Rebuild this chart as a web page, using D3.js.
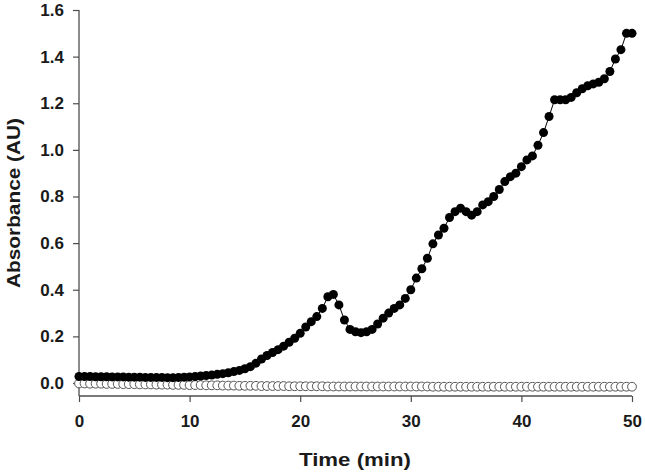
<!DOCTYPE html>
<html>
<head>
<meta charset="utf-8">
<script src="https://cdn.jsdelivr.net/npm/d3@7"></script>
<style>
  body { margin: 0; background: #fff; }
  svg text { font-family: "Liberation Sans", Arial, sans-serif; font-weight: bold; fill: #1a1a1a; }
</style>
</head>
<body>
<svg id="chart" width="645" height="474"></svg>
<script>
'use strict';

// sampling times (min)
const times = [
  0, 0.5, 1, 1.5, 2, 2.5, 3, 3.5, 4, 4.5, 5, 5.5, 6, 6.5, 7, 7.5, 8, 8.5, 9, 9.5,
  10, 10.5, 11, 11.5, 12, 12.5, 13, 13.5, 14, 14.5, 15, 15.5, 16, 16.5, 17, 17.5, 18, 18.5, 19, 19.5,
  20, 20.5, 21, 21.5, 22, 22.5, 23, 23.5, 24, 24.5, 25, 25.5, 26, 26.5, 27, 27.5, 28, 28.5, 29, 29.5,
  30, 30.5, 31, 31.5, 32, 32.5, 33, 33.5, 34, 34.5, 35, 35.5, 36, 36.5, 37, 37.5, 38, 38.5, 39, 39.5,
  40, 40.5, 41, 41.5, 42, 42.5, 43, 43.5, 44, 44.5, 45, 45.5, 46, 46.5, 47, 47.5, 48, 48.5, 49, 49.5,
  50
];

// filled circles
const filledVals = [
  0.028, 0.028, 0.028, 0.027, 0.027, 0.027, 0.026, 0.026, 0.026, 0.025, 0.025, 0.025, 0.024, 0.024, 0.024, 0.024, 0.023, 0.023, 0.024, 0.025,
  0.026, 0.028, 0.030, 0.032, 0.034, 0.037, 0.040, 0.044, 0.049, 0.054, 0.061, 0.070, 0.085, 0.103, 0.118, 0.131, 0.143, 0.158, 0.175, 0.192,
  0.213, 0.240, 0.263, 0.285, 0.320, 0.370, 0.380, 0.335, 0.270, 0.230, 0.220, 0.216, 0.220, 0.230, 0.253, 0.278, 0.300, 0.320, 0.335, 0.363,
  0.400, 0.450, 0.490, 0.535, 0.597, 0.635, 0.664, 0.710, 0.735, 0.750, 0.735, 0.720, 0.735, 0.764, 0.778, 0.800, 0.830, 0.864, 0.885, 0.900,
  0.928, 0.957, 0.974, 1.020, 1.074, 1.143, 1.215, 1.215, 1.215, 1.225, 1.245, 1.262, 1.275, 1.283, 1.290, 1.305, 1.336, 1.390, 1.430, 1.500,
  1.500
];

// open circles
const openVals = [
  -0.002, -0.002, -0.003, -0.003, -0.003, -0.004, -0.004, -0.004, -0.005, -0.005, -0.005, -0.006, -0.006, -0.006, -0.007, -0.007, -0.007, -0.008, -0.008, -0.008,
  -0.009, -0.009, -0.009, -0.010, -0.010, -0.010, -0.011, -0.011, -0.011, -0.012, -0.012, -0.012, -0.012, -0.013, -0.013, -0.013, -0.013, -0.013, -0.014, -0.014,
  -0.014, -0.014, -0.014, -0.014, -0.014, -0.015, -0.015, -0.015, -0.015, -0.015, -0.015, -0.015, -0.015, -0.015, -0.015, -0.015, -0.015, -0.015, -0.015, -0.015,
  -0.015, -0.015, -0.015, -0.015, -0.016, -0.016, -0.016, -0.016, -0.016, -0.016, -0.016, -0.016, -0.016, -0.016, -0.016, -0.016, -0.016, -0.016, -0.016, -0.016,
  -0.016, -0.016, -0.016, -0.016, -0.016, -0.016, -0.016, -0.016, -0.016, -0.016, -0.016, -0.016, -0.016, -0.016, -0.016, -0.016, -0.016, -0.016, -0.016, -0.016,
  -0.016
];

const xTicks = [0, 10, 20, 30, 40, 50];
const yTicks = [0, 0.2, 0.4, 0.6, 0.8, 1.0, 1.2, 1.4, 1.6];

const svg = d3.select('#chart');

const x = d3.scaleLinear().domain([0, 50]).range([79, 632]);
const y = d3.scaleLinear().domain([0, 1.6]).range([383, 10]);
const axisY = 396; // x axis sits a bit below zero
const axisColor = '#4d4d4d';

// y axis
const gy = svg.append('g')
  .attr('transform', `translate(${x(0)},0)`)
  .call(d3.axisLeft(y).tickValues(yTicks).tickFormat(d3.format('.1f')).tickSizeOuter(0).tickSize(6).tickPadding(9));
gy.select('.domain').remove();
gy.append('line')
  .attr('x1', 0).attr('x2', 0)
  .attr('y1', y(1.6)).attr('y2', axisY)
  .attr('stroke', axisColor).attr('stroke-width', 1.3);

// x axis
const gx = svg.append('g')
  .attr('transform', `translate(0,${axisY})`)
  .call(d3.axisBottom(x).tickValues(xTicks).tickFormat(d3.format('d')).tickSizeOuter(0).tickSize(6).tickPadding(13));
gx.select('.domain').remove();
gx.append('line')
  .attr('x1', x(0)).attr('x2', x(50))
  .attr('y1', 0).attr('y2', 0)
  .attr('stroke', axisColor).attr('stroke-width', 1.3);

svg.selectAll('.tick line').attr('stroke', axisColor).attr('stroke-width', 1.2);
svg.selectAll('.tick text').style('font-size', '17px').attr('fill', '#1a1a1a');

// axis titles
svg.append('text')
  .attr('x', 355).attr('y', 466)
  .attr('text-anchor', 'middle')
  .attr('textLength', 112).attr('lengthAdjust', 'spacingAndGlyphs')
  .style('font-size', '19px')
  .text('Time (min)');

svg.append('text')
  .attr('transform', 'translate(20,203) rotate(-90)')
  .attr('text-anchor', 'middle')
  .attr('textLength', 170).attr('lengthAdjust', 'spacingAndGlyphs')
  .style('font-size', '19px')
  .text('Absorbance (AU)');

// open series
const openData = times.map((t, i) => ({ t, v: openVals[i] }));
svg.append('g').selectAll('circle')
  .data(openData)
  .enter()
  .append('circle')
  .attr('cx', d => x(d.t))
  .attr('cy', d => y(d.v))
  .attr('r', 4.4)
  .attr('fill', '#fff')
  .attr('stroke', '#555')
  .attr('stroke-width', 1);

// filled series
const filledData = times.map((t, i) => ({ t, v: filledVals[i] }));
const line = d3.line().x(d => x(d.t)).y(d => y(d.v));
svg.append('path')
  .datum(filledData)
  .attr('d', line)
  .attr('fill', 'none')
  .attr('stroke', '#000')
  .attr('stroke-width', 1);

svg.append('g').selectAll('circle')
  .data(filledData)
  .enter()
  .append('circle')
  .attr('cx', d => x(d.t))
  .attr('cy', d => y(d.v))
  .attr('r', 4.5)
  .attr('fill', '#000');
</script>
</body>
</html>
